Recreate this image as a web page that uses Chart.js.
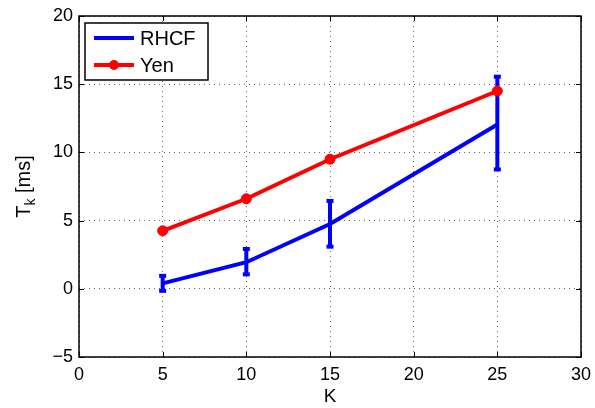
<!DOCTYPE html>
<html>
<head>
<meta charset="utf-8">
<script src="https://cdn.jsdelivr.net/npm/chart.js@4.4.0/dist/chart.umd.min.js"></script>
<style>
  html, body { margin: 0; padding: 0; background: #fff; }
  #wrap { width: 595px; height: 408px; }
</style>
</head>
<body>
<div id="wrap"><canvas id="myChart" width="595" height="408"></canvas></div>
<script>
// values
const kValues = [5, 10, 15, 25];
const rhcfMean = [0.4, 1.95, 4.75, 12.05];
const rhcfLow = [-0.15, 1.06, 3.09, 8.75];
const rhcfHigh = [0.95, 2.92, 6.44, 15.55];
const yenMean = [4.25, 6.6, 9.5, 14.5];
const xTicks = [0, 5, 10, 15, 20, 25, 30];
const yTicks = [-5, 0, 5, 10, 15, 20];

const FONT = "'Liberation Sans', Arial, Helvetica, sans-serif";

function toPoints(xs, ys) {
  return xs.map((x, i) => ({ x: x, y: ys[i] }));
}

// error bars for RHCF, drawn through the scales
const errorBars = {
  id: "errorBars",
  beforeDatasetsDraw(chart) {
    const ctx = chart.ctx;
    const xs = chart.scales.x;
    const ys = chart.scales.y;
    ctx.save();
    ctx.strokeStyle = "#0000ff";
    ctx.fillStyle = "#0000ff";
    ctx.lineWidth = 4;
    kValues.forEach((k, i) => {
      const px = xs.getPixelForValue(k);
      const top = ys.getPixelForValue(rhcfHigh[i]);
      const bot = ys.getPixelForValue(rhcfLow[i]);
      ctx.beginPath();
      ctx.moveTo(px, top);
      ctx.lineTo(px, bot);
      ctx.stroke();
      ctx.fillRect(px - 3.5, top - 2, 7, 4);
      ctx.fillRect(px - 3.5, bot - 2, 7, 4);
    });
    ctx.restore();
  },
};

// matlab style frame, inward ticks, y title and legend box
const frame = {
  id: "frame",
  afterDraw(chart) {
    const ctx = chart.ctx;
    const a = chart.chartArea;
    const xs = chart.scales.x;
    const ys = chart.scales.y;
    ctx.save();
    ctx.strokeStyle = "#000";
    ctx.lineWidth = 1.5;
    ctx.strokeRect(a.left, a.top, a.right - a.left, a.bottom - a.top);
    ctx.lineWidth = 1;
    ctx.beginPath();
    xTicks.forEach((t) => {
      const px = Math.round(xs.getPixelForValue(t)) + 0.5;
      ctx.moveTo(px, a.bottom);
      ctx.lineTo(px, a.bottom - 5);
      ctx.moveTo(px, a.top);
      ctx.lineTo(px, a.top + 5);
    });
    yTicks.forEach((t) => {
      const py = Math.round(ys.getPixelForValue(t)) + 0.5;
      ctx.moveTo(a.left, py);
      ctx.lineTo(a.left + 5, py);
      ctx.moveTo(a.right, py);
      ctx.lineTo(a.right - 5, py);
    });
    ctx.stroke();

    // y axis title with subscript
    ctx.translate(23, (a.top + a.bottom) / 2);
    ctx.rotate(-Math.PI / 2);
    ctx.fillStyle = "#000";
    ctx.textBaseline = "alphabetic";
    const big = "20px " + FONT;
    const small = "14px " + FONT;
    ctx.font = big;
    const wT = ctx.measureText("T").width;
    const wRest = ctx.measureText(" [ms]").width;
    ctx.font = small;
    const wk = ctx.measureText("k").width;
    const total = wT + wk + wRest;
    let x0 = -total / 2;
    ctx.font = big;
    ctx.fillText("T", x0, 7);
    ctx.font = small;
    ctx.fillText("k", x0 + wT, 12);
    ctx.font = big;
    ctx.fillText(" [ms]", x0 + wT + wk, 7);
    ctx.restore();

    // legend
    ctx.save();
    const lx = 85, ly = 23, lw = 123, lh = 57;
    ctx.fillStyle = "#fff";
    ctx.fillRect(lx, ly, lw, lh);
    ctx.strokeStyle = "#000";
    ctx.lineWidth = 1.5;
    ctx.strokeRect(lx, ly, lw, lh);
    chart.data.datasets.forEach((ds, i) => {
      const y = ly + 15 + i * 27;
      ctx.strokeStyle = ds.borderColor;
      ctx.lineWidth = 4;
      ctx.beginPath();
      ctx.moveTo(94, y);
      ctx.lineTo(134, y);
      ctx.stroke();
      if (ds.pointRadius > 0) {
        ctx.fillStyle = ds.pointBackgroundColor;
        ctx.beginPath();
        ctx.arc(114, y, ds.pointRadius, 0, Math.PI * 2);
        ctx.fill();
      }
      ctx.fillStyle = "#000";
      ctx.font = "20px " + FONT;
      ctx.textBaseline = "middle";
      ctx.fillText(ds.label, 140, y + 1);
    });
    ctx.restore();
  },
};

const ctx = document.getElementById("myChart").getContext("2d");
new Chart(ctx, {
  type: "line",
  data: {
    datasets: [
      {
        label: "RHCF",
        data: toPoints(kValues, rhcfMean),
        borderColor: "#0000ff",
        backgroundColor: "#0000ff",
        borderWidth: 4,
        pointRadius: 0,
        fill: false,
      },
      {
        label: "Yen",
        data: toPoints(kValues, yenMean),
        borderColor: "#ff0000",
        backgroundColor: "#ff0000",
        pointBackgroundColor: "#ff0000",
        pointBorderColor: "#ff0000",
        borderWidth: 4,
        pointRadius: 5,
        pointBorderWidth: 1,
        fill: false,
      },
    ],
  },
  options: {
    responsive: false,
    animation: false,
    layout: { padding: { top: 16, right: 14, left: 0, bottom: 0 } },
    plugins: {
      legend: { display: false },
      tooltip: { enabled: false },
    },
    scales: {
      x: {
        type: "linear",
        min: 0,
        max: 30,
        afterBuildTicks: (axis) => {
          axis.ticks = xTicks.map((v) => ({ value: v }));
        },
        afterFit: (axis) => {
          axis.height = 51;
          axis.paddingLeft = 0;
          axis.paddingRight = 0;
        },
        border: { display: false, dash: [1, 4] },
        grid: {
          color: "rgba(0,0,0,0.6)",
          lineWidth: 1,
          drawTicks: false,
        },
        ticks: {
          color: "#000",
          font: { family: FONT, size: 18 },
          padding: 7,
          maxRotation: 0,
        },
        title: {
          display: true,
          text: "K",
          color: "#000",
          font: { family: FONT, size: 19 },
          padding: { top: 0, bottom: 0 },
        },
      },
      y: {
        min: -5,
        max: 20,
        afterBuildTicks: (axis) => {
          axis.ticks = yTicks.map((v) => ({ value: v }));
        },
        afterFit: (axis) => {
          axis.width = 79;
          axis.paddingTop = 0;
          axis.paddingBottom = 0;
        },
        border: { display: false, dash: [1, 4] },
        grid: {
          color: "rgba(0,0,0,0.6)",
          lineWidth: 1,
          drawTicks: false,
        },
        ticks: {
          color: "#000",
          font: { family: FONT, size: 18 },
          padding: 6,
          callback: (v) => (v < 0 ? "\u2212" + Math.abs(v) : String(v)),
        },
      },
    },
  },
  plugins: [errorBars, frame],
});
</script>
</body>
</html>
